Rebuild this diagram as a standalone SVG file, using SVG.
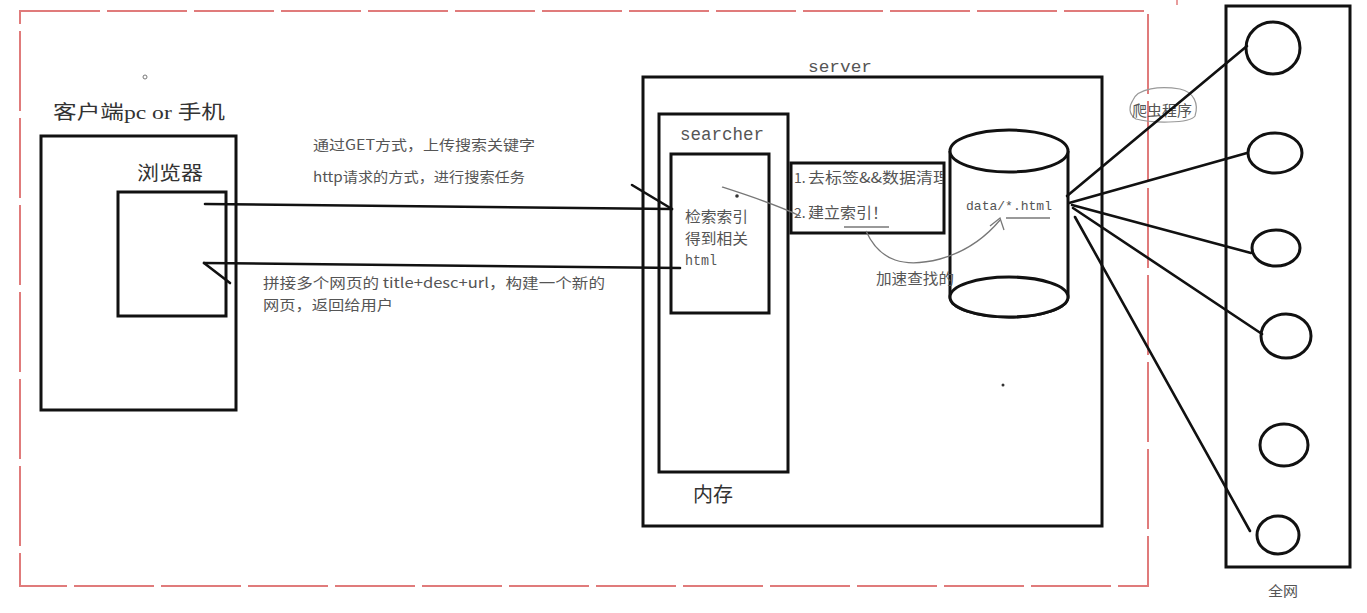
<svg xmlns="http://www.w3.org/2000/svg" width="1367" height="613" viewBox="0 0 1367 613">
<defs>
<style>
.box{fill:none;stroke:#111;stroke-width:3}
.wbox{fill:#fff;stroke:#111;stroke-width:3}
.ln{fill:none;stroke:#111;stroke-width:2.6;stroke-linecap:round}
.thin{fill:none;stroke:#777;stroke-width:1.3}
.red{fill:none;stroke:#e07b7b;stroke-width:2;stroke-dasharray:80 7}
.cj{font-family:"Noto Sans CJK SC","Liberation Serif",serif;fill:#555}
.dk{font-family:"Liberation Serif","Noto Sans CJK SC",serif;fill:#333}
.mono{font-family:"Liberation Mono","Noto Sans CJK SC",monospace;fill:#555}
</style>
<clipPath id="clipStep"><rect x="792" y="164" width="151" height="68"/></clipPath>
</defs>
<rect width="1367" height="613" fill="#fff"/>

<rect class="red" x="20" y="11" width="1128" height="575"/>
<line x1="1177" y1="0" x2="1177" y2="5" stroke="#e07b7b" stroke-width="1.5"/>

<g id="client">
<rect class="box" x="41" y="136" width="195" height="274"/>
<text class="dk" x="53" y="119" font-size="19" textLength="172" lengthAdjust="spacingAndGlyphs">客户端pc or 手机</text>
<circle cx="145" cy="77" r="2" fill="none" stroke="#777" stroke-width="1"/>
</g>

<g id="browser">
<rect class="box" x="118" y="192" width="108" height="124"/>
<text class="dk" x="137" y="180" font-size="19" textLength="66" lengthAdjust="spacingAndGlyphs">浏览器</text>
</g>

<g id="server">
<rect class="box" x="643" y="77" width="459" height="449"/>
<text class="mono" x="808" y="72" font-size="17" textLength="64" lengthAdjust="spacingAndGlyphs" fill="#444">server</text>
<text class="dk" x="693" y="502" font-size="20" textLength="40" lengthAdjust="spacingAndGlyphs">内存</text>
</g>

<g id="searcher">
<rect class="box" x="659" y="114" width="129" height="358"/>
<text class="mono" x="680" y="140" font-size="18" textLength="84" lengthAdjust="spacingAndGlyphs">searcher</text>
</g>

<g id="search-index">
<rect class="box" x="671" y="154" width="98" height="159"/>
<text class="cj" x="685" y="222" font-size="15" textLength="63" lengthAdjust="spacingAndGlyphs">检索索引</text>
<text class="cj" x="685" y="244" font-size="15" textLength="63" lengthAdjust="spacingAndGlyphs">得到相关</text>
<text class="mono" x="685" y="265" font-size="14" textLength="32" lengthAdjust="spacingAndGlyphs">html</text>
</g>

<g id="steps">
<rect class="box" x="791" y="163" width="153" height="70"/>
<g clip-path="url(#clipStep)">
<text class="cj" x="794" y="183" font-size="14">1.</text>
<text class="cj" x="808" y="183" font-size="15" textLength="142" lengthAdjust="spacingAndGlyphs">去标签&amp;&amp;数据清理</text>
</g>
<text class="cj" x="794" y="218" font-size="14">2.</text>
<text class="cj" x="808" y="218" font-size="15" textLength="80" lengthAdjust="spacingAndGlyphs">建立索引！</text>
<line class="thin" x1="844" y1="227" x2="889" y2="227"/>
</g>

<g id="data">
<path d="M950,151 L950,297 A59,20 0 0 0 1068,297 L1068,151" fill="#fff" stroke="#111" stroke-width="3"/>
<ellipse cx="1009" cy="297" rx="59" ry="20" fill="#fff" stroke="#111" stroke-width="3"/>
<ellipse cx="1009" cy="151" rx="59" ry="21" fill="#fff" stroke="#111" stroke-width="3"/>
<text class="mono" x="966" y="210" font-size="13" textLength="86" lengthAdjust="spacingAndGlyphs">data/*.html</text>
<line class="thin" x1="1006" y1="218" x2="1050" y2="218"/>
</g>

<g id="web">
<rect class="box" x="1226" y="6" width="124" height="561"/>
<ellipse class="box" cx="1273" cy="48" rx="27" ry="26"/>
<ellipse class="box" cx="1275" cy="153" rx="27" ry="20"/>
<ellipse class="box" cx="1276" cy="248" rx="24" ry="18"/>
<ellipse class="box" cx="1286" cy="336" rx="25" ry="22"/>
<ellipse class="box" cx="1284" cy="445" rx="24" ry="21"/>
<ellipse class="box" cx="1278" cy="535" rx="21" ry="19"/>
<text class="cj" x="1268" y="596" font-size="14" textLength="30" lengthAdjust="spacingAndGlyphs">全网</text>
</g>

<g id="crawler">
<path d="M1133,100 C1138,88 1160,86 1180,89 C1194,92 1199,104 1195,116 C1190,124 1150,123 1136,119 C1128,114 1129,106 1133,100 Z" fill="none" stroke="#999" stroke-width="1.2"/>
<text class="cj" x="1132" y="116" font-size="15" textLength="60" lengthAdjust="spacingAndGlyphs" fill="#777">爬虫程序</text>
</g>

<g id="connectors">
<line class="ln" x1="205" y1="204" x2="672" y2="209"/>
<line class="ln" x1="632" y1="185" x2="672" y2="209"/>
<line class="ln" x1="680" y1="268" x2="204" y2="263"/>
<line class="ln" x1="204" y1="263" x2="230" y2="283"/>
<line class="ln" x1="1067" y1="196" x2="1247" y2="46"/>
<line class="ln" x1="1069" y1="203" x2="1247" y2="153"/>
<line class="ln" x1="1072" y1="205" x2="1251" y2="253"/>
<line class="ln" x1="1073" y1="208" x2="1262" y2="334"/>
<line class="ln" x1="1075" y1="217" x2="1250" y2="531"/>
<path class="thin" d="M722,187 C750,196 775,204 800,216"/>
<circle cx="737" cy="196" r="1.8" fill="#333"/>
<path class="thin" d="M866,231 C880,262 905,268 940,259 C965,252 985,238 1000,220"/>
<path class="thin" d="M990,226 L1000,218 L1004,230"/>
<circle cx="1003" cy="385" r="1.5" fill="#333"/>
</g>

<g id="labels">
<text class="cj" x="313" y="150" font-size="14" textLength="222" lengthAdjust="spacingAndGlyphs">通过GET方式，上传搜索关键字</text>
<text class="cj" x="313" y="182" font-size="14" textLength="212" lengthAdjust="spacingAndGlyphs">http请求的方式，进行搜索任务</text>
<text class="cj" x="263" y="288" font-size="14" textLength="342" lengthAdjust="spacingAndGlyphs">拼接多个网页的 title+desc+url，构建一个新的</text>
<text class="cj" x="263" y="310" font-size="14" textLength="130" lengthAdjust="spacingAndGlyphs">网页，返回给用户</text>
<text class="cj" x="876" y="284" font-size="15" textLength="78" lengthAdjust="spacingAndGlyphs">加速查找的</text>
</g>
</svg>
